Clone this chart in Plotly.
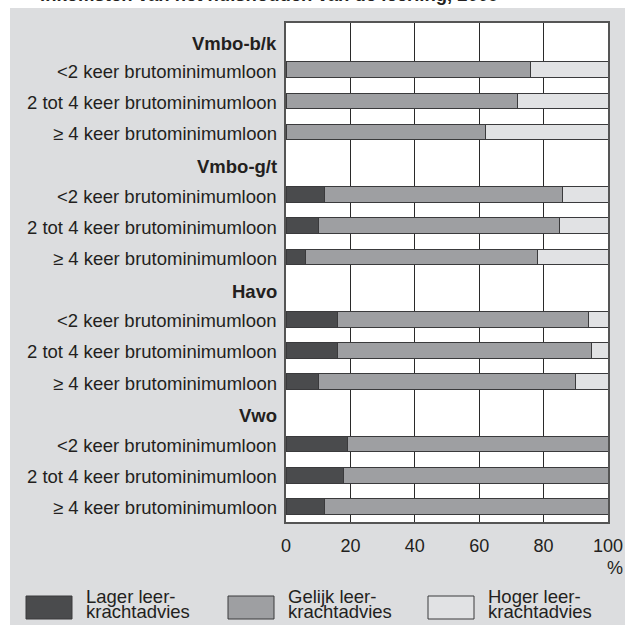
import plotly.graph_objects as go

groepen = ["Vmbo-b/k", "Vmbo-g/t", "Havo", "Vwo"]
inkomens = ["&lt;2 keer brutominimumloon", "2 tot 4 keer brutominimumloon", "≥ 4 keer brutominimumloon"]

lager = [0, 0, 0, 12, 10, 6, 16, 16, 10, 19, 18, 12]
gelijk = [76, 72, 62, 74, 75, 72, 78, 79, 80, 81, 82, 88]
hoger = [24, 28, 38, 14, 15, 22, 6, 5, 10, 0, 0, 0]

reeksen = ["Lager leer-|krachtadvies", "Gelijk leer-|krachtadvies", "Hoger leer-|krachtadvies"]
kleuren = ["#4a4b4d", "#9e9fa2", "#e1e2e4"]

x_ticks = [0, 20, 40, 60, 80, 100]

FONT = "Liberation Sans, Arial, sans-serif"
TXT = "#231f20"
BG = "#dcdddf"

# plot area in pixels
L, R, T, B = 286, 608, 23, 522
W, H = R - L, B - T


def px(x):
    return (x - L) / W


def py(y):
    return (B - y) / H


fig = go.Figure()

annotations = []
bar_y = []
for g, naam in enumerate(groepen):
    # group header sits a little low in its row, like the original
    annotations.append(dict(text="<b>" + naam + "</b>", xref="paper", yref="y", x=px(279), y=g * 4,
                            yshift=-(5 if g == 0 else 3), xanchor="right", yanchor="middle",
                            showarrow=False, font=dict(family=FONT, size=18.5, color=TXT)))
    for i, ink in enumerate(inkomens):
        rij = g * 4 + i + 1
        bar_y.append(rij)
        annotations.append(dict(text=ink, xref="paper", yref="y", x=px(279), y=rij, yshift=-1.5,
                                xanchor="right", yanchor="middle", showarrow=False,
                                font=dict(family=FONT, size=18.5, color=TXT)))

for vals, kleur in zip([lager, gelijk, hoger], kleuren):
    fig.add_trace(go.Bar(
        x=vals, y=bar_y, orientation="h", width=0.5,
        marker=dict(color=kleur, line=dict(color="#3a3a3c", width=1)),
        showlegend=False, hoverinfo="x"))

shapes = [
    # white strips round the grey panel
    dict(type="rect", xref="paper", yref="paper", x0=px(-5), x1=px(10), y0=py(630), y1=py(-5),
         fillcolor="white", line=dict(width=0), layer="below"),
    dict(type="rect", xref="paper", yref="paper", x0=px(-5), x1=px(630), y0=py(8), y1=py(-5),
         fillcolor="white", line=dict(width=0), layer="below"),
]
annotations += [
    dict(text="<b>inkomsten van het huishouden van de leerling, 2009</b>", xref="paper", yref="paper",
         x=px(38), y=py(-5), xanchor="left", yanchor="middle", showarrow=False,
         font=dict(family=FONT, size=18.5, color=TXT)),
    dict(text="%", xref="paper", yref="paper", x=px(615), y=py(568), xanchor="center",
         yanchor="middle", showarrow=False, font=dict(family=FONT, size=18, color=TXT)),
]

box_x = [26, 228, 428]
for naam, kleur, bx in zip(reeksen, kleuren, box_x):
    shapes.append(dict(type="rect", xref="paper", yref="paper", x0=px(bx), x1=px(bx + 46),
                       y0=py(619), y1=py(596), fillcolor=kleur,
                       line=dict(color="#3a3a3c", width=1)))
    regels = naam.split("|")
    for r, ty in zip(regels, [596, 611]):
        annotations.append(dict(text=r, xref="paper", yref="paper", x=px(bx + 58), y=py(ty),
                                xanchor="left", yanchor="middle", showarrow=False,
                                font=dict(family=FONT, size=18.5, color=TXT)))

fig.update_layout(
    width=625, height=625, autosize=False,
    margin=dict(l=L, r=625 - R, t=T, b=625 - B, pad=0, autoexpand=False),
    paper_bgcolor=BG, plot_bgcolor="white",
    barmode="stack",
    font=dict(family=FONT, size=18.5, color=TXT),
    shapes=shapes, annotations=annotations,
    xaxis=dict(range=[0, 100], tickvals=x_ticks, showgrid=True, gridcolor="#2a2a2a", gridwidth=1,
               zeroline=False, showline=True, mirror=True, linecolor="#555", linewidth=1.5,
               ticks="outside", ticklen=7, tickcolor="rgba(0,0,0,0)", automargin=False,
               tickfont=dict(size=18, color=TXT), fixedrange=True),
    yaxis=dict(range=[15.5, -0.5], showticklabels=False, showgrid=False,
               zeroline=False, showline=True, mirror=True, linecolor="#555", linewidth=1.5,
               automargin=False, fixedrange=True),
)

# no page margin, so the figure fills the 625x625 window
fig.write_html("out.html", config=dict(displayModeBar=False),
               post_script="document.body.style.margin='0';")
